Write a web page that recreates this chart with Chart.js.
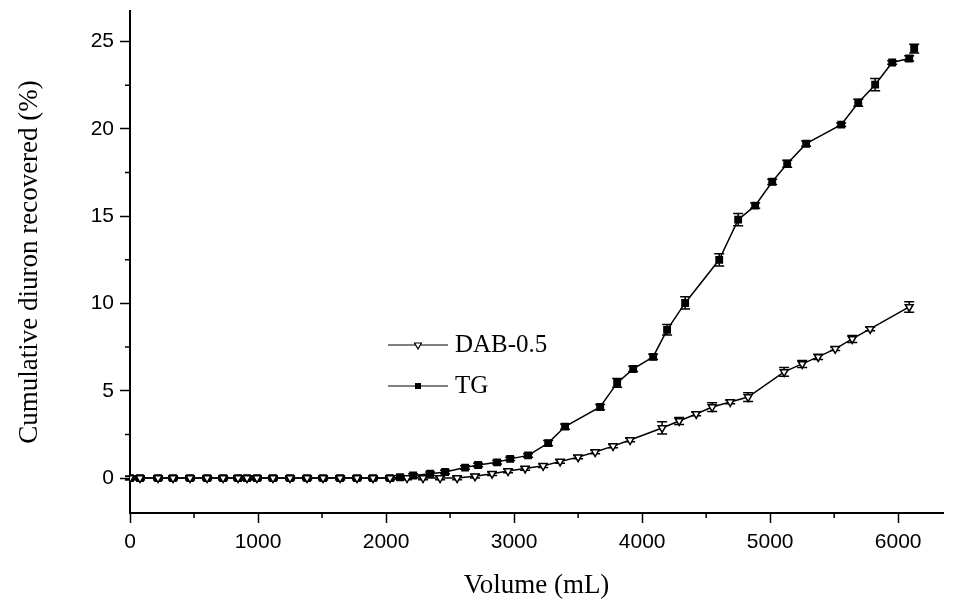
<!DOCTYPE html>
<html>
<head>
<meta charset="utf-8">
<script src="https://cdn.jsdelivr.net/npm/chart.js@4/dist/chart.umd.min.js"></script>
<style>
  body { margin: 0; background: #fff; }
</style>
</head>
<body>
<canvas id="myChart" width="972" height="604"></canvas>
<script>
// TG series (volume in mL, cumulative %)
const tgVol = [0, 78, 219, 336, 469, 602, 727, 844, 914, 992, 1117, 1250, 1383, 1508, 1641, 1773, 1898, 2031,
  2109, 2211, 2344, 2461, 2617, 2719, 2867, 2969, 3109, 3266, 3398, 3672, 3805, 3930, 4086, 4195, 4336,
  4602, 4750, 4883, 5016, 5133, 5281, 5555, 5688, 5820, 5953, 6086, 6125];
const tgVal = [0, 0, 0, 0, 0, 0, 0, 0, 0, 0, 0, 0, 0, 0, 0, 0, 0, 0,
  0.05, 0.15, 0.25, 0.35, 0.6, 0.75, 0.9, 1.1, 1.3, 2.0, 2.95, 4.07, 5.45, 6.25, 6.94, 8.49, 10.03,
  12.5, 14.8, 15.6, 16.97, 18.0, 19.15, 20.24, 21.5, 22.53, 23.8, 24.03, 24.6];
const tgErr = [0.1, 0.1, 0.1, 0.1, 0.1, 0.1, 0.1, 0.1, 0.1, 0.1, 0.1, 0.1, 0.1, 0.1, 0.1, 0.1, 0.1, 0.1,
  0.1, 0.1, 0.1, 0.1, 0.1, 0.1, 0.1, 0.1, 0.1, 0.15, 0.15, 0.15, 0.25, 0.15, 0.15, 0.3, 0.35,
  0.35, 0.35, 0.15, 0.15, 0.2, 0.15, 0.1, 0.2, 0.35, 0.1, 0.15, 0.25];

// DAB-0.5 series
const dabVol = [0, 78, 219, 336, 469, 602, 727, 844, 914, 992, 1117, 1250, 1383, 1508, 1641, 1773, 1898, 2031,
  2164, 2289, 2422, 2555, 2695, 2828, 2953, 3086, 3227, 3359, 3500, 3633, 3773, 3906, 4156, 4289, 4422,
  4547, 4688, 4828, 5109, 5250, 5375, 5508, 5641, 5781, 6086];
const dabVal = [0, 0, 0, 0, 0, 0, 0, 0, 0, 0, 0, 0, 0, 0, 0, 0, 0, 0,
  0, 0, 0, 0, 0.1, 0.25, 0.4, 0.55, 0.7, 0.95, 1.2, 1.49, 1.83, 2.18, 2.87, 3.27, 3.67,
  4.07, 4.36, 4.64, 6.08, 6.54, 6.94, 7.4, 7.97, 8.54, 9.8];
const dabErr = [0.1, 0.1, 0.1, 0.1, 0.1, 0.1, 0.1, 0.1, 0.1, 0.1, 0.1, 0.1, 0.1, 0.1, 0.1, 0.1, 0.1, 0.1,
  0.1, 0.1, 0.1, 0.1, 0.1, 0.1, 0.1, 0.1, 0.1, 0.1, 0.1, 0.1, 0.1, 0.1, 0.35, 0.2, 0.1,
  0.25, 0.1, 0.25, 0.25, 0.2, 0.15, 0.1, 0.2, 0.1, 0.3];

const xTicks = [0, 500, 1000, 1500, 2000, 2500, 3000, 3500, 4000, 4500, 5000, 5500, 6000];
const yTicks = [0, 2.5, 5, 7.5, 10, 12.5, 15, 17.5, 20, 22.5, 25];

const pts = (xs, ys) => xs.map((x, i) => ({ x: x, y: ys[i] }));

// error bars, minor ticks and the in-plot legend
const extras = {
  id: "extras",
  beforeDatasetsDraw(chart) {
    const ctx = chart.ctx;
    const xs = chart.scales.x, ys = chart.scales.y;
    const sets = [[tgVol, tgVal, tgErr], [dabVol, dabVal, dabErr]];
    ctx.save();
    ctx.strokeStyle = "#000";
    ctx.lineWidth = 1.5;
    sets.forEach(([v, y, e]) => {
      v.forEach((vol, i) => {
        const px = xs.getPixelForValue(vol);
        const top = ys.getPixelForValue(y[i] + e[i]);
        const bot = ys.getPixelForValue(y[i] - e[i]);
        ctx.beginPath();
        ctx.moveTo(px, top); ctx.lineTo(px, bot);
        ctx.moveTo(px - 5, top); ctx.lineTo(px + 5, top);
        ctx.moveTo(px - 5, bot); ctx.lineTo(px + 5, bot);
        ctx.stroke();
      });
    });
    ctx.restore();
  },
  afterDraw(chart) {
    const ctx = chart.ctx;
    const xs = chart.scales.x, ys = chart.scales.y;
    ctx.save();
    ctx.strokeStyle = "#000";
    ctx.lineWidth = 1.5;
    // minor ticks
    ctx.beginPath();
    xTicks.forEach(t => {
      if (t % 1000 !== 0) {
        const px = xs.getPixelForValue(t);
        ctx.moveTo(px, xs.top); ctx.lineTo(px, xs.top + 5);
      }
    });
    yTicks.forEach(t => {
      if (t % 5 !== 0) {
        const py = ys.getPixelForValue(t);
        ctx.moveTo(ys.right, py); ctx.lineTo(ys.right - 5, py);
      }
    });
    ctx.stroke();

    // legend
    ctx.lineWidth = 1.2;
    ctx.beginPath();
    ctx.moveTo(388, 345); ctx.lineTo(448, 345);
    ctx.moveTo(388, 386); ctx.lineTo(448, 386);
    ctx.stroke();
    ctx.fillStyle = "#fff";
    Chart.helpers.drawPoint(ctx, { pointStyle: "triangle", rotation: 180, radius: 4, borderWidth: 1.5 }, 418, 345);
    ctx.fillStyle = "#000";
    ctx.fillRect(415, 383, 6, 6);
    ctx.font = '25px "Liberation Serif"';
    ctx.textBaseline = "middle";
    ctx.fillText("DAB-0.5", 455, 345);
    ctx.fillText("TG", 455, 386);
    ctx.restore();
  }
};

new Chart(document.getElementById("myChart").getContext("2d"), {
  type: "line",
  data: {
    datasets: [
      {
        label: "DAB-0.5",
        data: pts(dabVol, dabVal),
        borderColor: "#000",
        borderWidth: 1.5,
        pointStyle: "triangle",
        rotation: 180,
        pointRadius: 4.5,
        pointBorderWidth: 1.5,
        pointBackgroundColor: "#fff",
        pointBorderColor: "#000",
        fill: false,
        tension: 0,
      },
      {
        label: "TG",
        data: pts(tgVol, tgVal),
        borderColor: "#000",
        borderWidth: 1.5,
        pointStyle: "rect",
        pointRadius: 4.5,
        pointBackgroundColor: "#000",
        pointBorderColor: "#000",
        fill: false,
        tension: 0,
        segment: {
          borderColor: c => (c.p1DataIndex === tgVal.length - 1 ? "rgba(0,0,0,0)" : "#000"),
        },
      },
    ],
  },
  options: {
    responsive: false,
    devicePixelRatio: 1,
    animation: false,
    layout: { padding: { left: 0, top: 11, right: 29, bottom: 0 } },
    plugins: { legend: { display: false }, tooltip: { enabled: false } },
    scales: {
      x: {
        type: "linear",
        min: 0,
        max: 6350,
        border: { display: true, color: "#000", width: 2 },
        grid: { drawOnChartArea: false, drawTicks: true, tickLength: 10, tickWidth: 1.5,
          tickColor: c => (c.tick && c.tick.value % 1000 === 0 ? "#000" : "rgba(0,0,0,0)") },
        afterBuildTicks: s => { s.ticks = xTicks.map(v => ({ value: v })); },
        afterFit: s => { s.height = 91; s.paddingLeft = 0; s.paddingRight = 0; },
        ticks: {
          color: "#000",
          padding: 7,
          maxRotation: 0,
          autoSkip: false,
          font: { family: "Liberation Sans", size: 21 },
          callback: v => (v % 1000 === 0 ? String(v) : ""),
        },
        title: {
          display: true,
          text: "Volume (mL)",
          color: "#000",
          font: { family: "Liberation Serif", size: 27 },
          padding: { top: 0, bottom: 2 },
        },
      },
      y: {
        min: -2,
        max: 26.75,
        border: { display: true, color: "#000", width: 2 },
        grid: { drawOnChartArea: false, drawTicks: true, tickLength: 10, tickWidth: 1.5,
          tickColor: c => (c.tick && c.tick.value % 5 === 0 ? "#000" : "rgba(0,0,0,0)") },
        afterBuildTicks: s => { s.ticks = yTicks.map(v => ({ value: v })); },
        afterFit: s => { s.width = 130; s.paddingTop = 0; s.paddingBottom = 0; },
        ticks: {
          color: "#000",
          padding: 6,
          autoSkip: false,
          font: { family: "Liberation Sans", size: 21 },
          callback: v => (v % 5 === 0 ? String(v) : ""),
        },
        title: {
          display: true,
          text: "Cumulative diuron recovered (%)",
          color: "#000",
          font: { family: "Liberation Serif", size: 27 },
          padding: { top: 14, bottom: 0 },
        },
      },
    },
  },
  plugins: [extras],
});
</script>
</body>
</html>
